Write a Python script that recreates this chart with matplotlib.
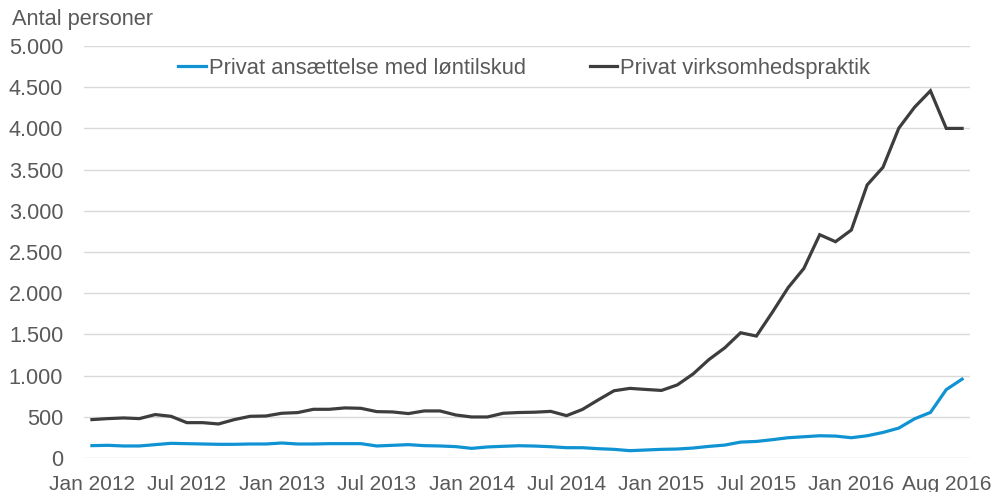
import matplotlib
matplotlib.use("Agg")
import matplotlib.pyplot as plt
import numpy as np

plt.rcParams['font.family'] = ['Liberation Sans', 'DejaVu Sans']

# monthly values, Jan 2012 onwards (56 months)
loentilskud = [150, 154, 146, 146, 162, 178, 174, 170, 166, 166,
               170, 170, 182, 170, 170, 174, 174, 174, 146, 154,
               162, 150, 146, 138, 117, 134, 142, 149, 145, 137,
               125, 125, 113, 105, 89, 97, 105, 109, 121, 141,
               157, 193, 201, 222, 246, 258, 270, 266, 246, 270,
               310, 363, 476, 553, 830, 957]
praktik = [466, 478, 486, 478, 527, 506, 429, 429, 413, 466,
           506, 510, 543, 551, 591, 591, 608, 603, 563, 559,
           539, 571, 571, 522, 498, 498, 543, 552, 556, 566,
           514, 589, 705, 816, 845, 832, 820, 887, 1020, 1195,
           1337, 1520, 1480, 1766, 2066, 2301, 2710, 2625, 2767, 3314,
           3528, 4003, 4258, 4456, 4000, 4000]
tick_labels = ["Jan 2012", "Jul 2012", "Jan 2013", "Jul 2013", "Jan 2014",
               "Jul 2014", "Jan 2015", "Jul 2015", "Jan 2016", "Aug 2016"]
yticks = [0, 500, 1000, 1500, 2000, 2500, 3000, 3500, 4000, 4500, 5000]

blue = '#0F93D2'
dark = '#3d3d3d'
txt = '#595959'

fig = plt.figure(figsize=(9.93, 4.92), dpi=100)
ax = fig.add_axes([84/993, 1-458/492, 886/993, 412/492])

x = np.arange(len(praktik))
ax.plot(x, loentilskud, color=blue, lw=2.3, label="Privat ansættelse med løntilskud",
        solid_joinstyle='miter')
ax.plot(x, praktik, color=dark, lw=2.3, label="Privat virksomhedspraktik",
        solid_joinstyle='miter')

ax.set_xlim(-0.5, len(praktik) - 0.5)
ax.set_ylim(0, 5000)
ax.set_yticks(yticks)
ax.set_yticklabels([f"{v:,}".replace(",", ".") for v in yticks])
ax.set_xticks(np.arange(0, 6*len(tick_labels), 6))
ax.set_xticklabels(tick_labels)

ax.grid(axis='y', color='#d9d9d9', lw=1)
ax.set_axisbelow(True)
for s in ax.spines.values():
    s.set_visible(False)
ax.tick_params(axis='both', length=0, labelcolor=txt)
ax.tick_params(axis='y', pad=15, labelsize=15.6)
ax.tick_params(axis='x', pad=12, labelsize=15)

fig.text(12/993, 1-19/492, "Antal personer", fontsize=15.7, color=txt, va='center', ha='left')

ax.legend(loc='center', bbox_to_anchor=(0.497, 0.9466), ncol=2, frameon=False,
          fontsize=15.8, labelcolor=txt, handlelength=1.25, handletextpad=0.15,
          columnspacing=2.9)

fig.savefig("out.png", dpi=100)
